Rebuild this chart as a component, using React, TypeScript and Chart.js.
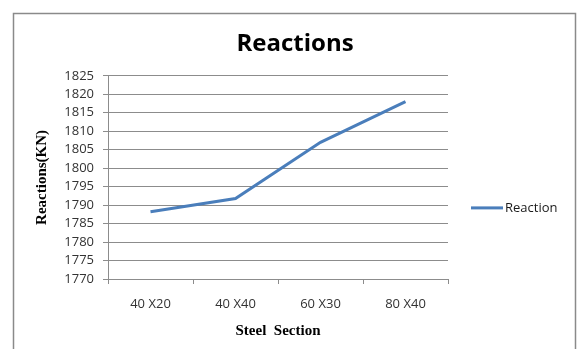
import React, { useEffect, useRef } from "react";
import { Chart, registerables } from "chart.js";

Chart.register(...registerables);

const categories = ["40 X20", "40 X40", "60 X30", "80 X40"];
const reactionValues = [1788.2, 1791.8, 1807.0, 1818.0];
const seriesName = "Reaction";
const yMin = 1770;
const yMax = 1825;
const yStep = 5;

const LINE_COLOR = "#4A7EBB";
const GRID_COLOR = "#8c8c8c";
const SANS = "'Open Sans', 'Noto Sans', sans-serif";
const SERIF = "'Liberation Serif', 'Times New Roman', serif";

const framePlugin = {
  id: "frame",
  beforeDraw(chart: any) {
    const { ctx, width, height } = chart;
    ctx.save();
    ctx.fillStyle = "#ffffff";
    ctx.fillRect(0, 0, width, height);
    ctx.strokeStyle = "#8a8a8a";
    ctx.lineWidth = 1.5;
    ctx.strokeRect(13.5, 13.5, width - 14 - 1, height + 10);
    ctx.restore();
  },
};

const legendPlugin = {
  id: "sideLegend",
  afterDraw(chart: any) {
    const { ctx, chartArea } = chart;
    const ds = chart.data.datasets[0];
    const y = (chartArea.top + chartArea.bottom) / 2 + 30.5;
    const x0 = chartArea.right + 23;
    ctx.save();
    ctx.strokeStyle = ds.borderColor;
    ctx.lineWidth = 3;
    ctx.beginPath();
    ctx.moveTo(x0, y);
    ctx.lineTo(x0 + 32, y);
    ctx.stroke();
    ctx.fillStyle = "#1a1a1a";
    ctx.font = `13px ${SANS}`;
    ctx.textBaseline = "middle";
    ctx.textAlign = "left";
    ctx.fillText(ds.label, x0 + 34, y);
    ctx.restore();
  },
};

export default function App() {
  const ref = useRef<HTMLCanvasElement>(null);

  useEffect(() => {
    if (!ref.current) return;
    const chart = new Chart(ref.current, {
      type: "line",
      data: {
        labels: categories,
        datasets: [
          {
            label: seriesName,
            data: reactionValues,
            borderColor: LINE_COLOR,
            backgroundColor: LINE_COLOR,
            borderWidth: 3,
            pointRadius: 0,
            tension: 0,
            yAxisID: "y",
          },
        ],
      },
      options: {
        animation: false,
        responsive: false,
        layout: { padding: { left: 13, right: 0, top: 0, bottom: 0 } },
        plugins: {
          legend: { display: false },
          tooltip: { enabled: false },
          title: {
            display: true,
            text: "Reactions",
            color: "#000000",
            font: { family: SANS, size: 24, weight: "bold", lineHeight: 1.2 },
            padding: { top: 30, bottom: 17 },
          },
        },
        scales: {
          x: {
            type: "category",
            offset: true,
            grid: {
              display: true,
              offset: true,
              drawOnChartArea: false,
              drawTicks: true,
              tickLength: 5,
              color: GRID_COLOR,
            },
            border: { display: true, color: GRID_COLOR },
            ticks: {
              color: "#333333",
              font: { family: SANS, size: 13 },
              padding: 12,
              maxRotation: 0,
              autoSkip: false,
            },
            title: {
              display: true,
              text: "Steel  Section",
              color: "#000000",
              font: { family: SERIF, size: 15, weight: "bold", lineHeight: 1.2 },
              padding: { top: 0, bottom: 9 },
            },
            afterFit(scale: any) {
              scale.height = 70;
            },
          },
          y: {
            type: "linear",
            position: "left",
            min: yMin,
            max: yMax,
            grid: {
              color: GRID_COLOR,
              drawTicks: true,
              tickLength: 5,
            },
            border: { display: true, color: GRID_COLOR },
            ticks: {
              stepSize: yStep,
              autoSkip: false,
              count: undefined,
              color: "#333333",
              font: { family: SANS, size: 13 },
              padding: 9,
              callback: (v: any) => String(v),
            },
            afterBuildTicks(scale: any) {
              const t = [];
              for (let v = yMin; v <= yMax; v += yStep) t.push({ value: v });
              scale.ticks = t;
            },
            title: {
              display: true,
              text: "Reactions(KN)",
              color: "#000000",
              font: { family: SERIF, size: 15, weight: "bold", lineHeight: 1.2 },
              padding: { top: 20, bottom: 0 },
            },
            afterFit(scale: any) {
              scale.width = 95;
            },
          },
          spacer: {
            type: "linear",
            position: "right",
            display: true,
            grid: { display: false },
            border: { display: false },
            ticks: { display: false },
            afterFit(scale: any) {
              scale.width = 129;
            },
          },
        },
      },
      plugins: [framePlugin, legendPlugin],
    } as any);
    return () => chart.destroy();
  }, []);

  return (
    <div style={{ position: "fixed", left: 0, top: 0, width: 577, height: 349, background: "#fff" }}>
      <canvas ref={ref} width={577} height={349} style={{ display: "block" }} />
    </div>
  );
}
